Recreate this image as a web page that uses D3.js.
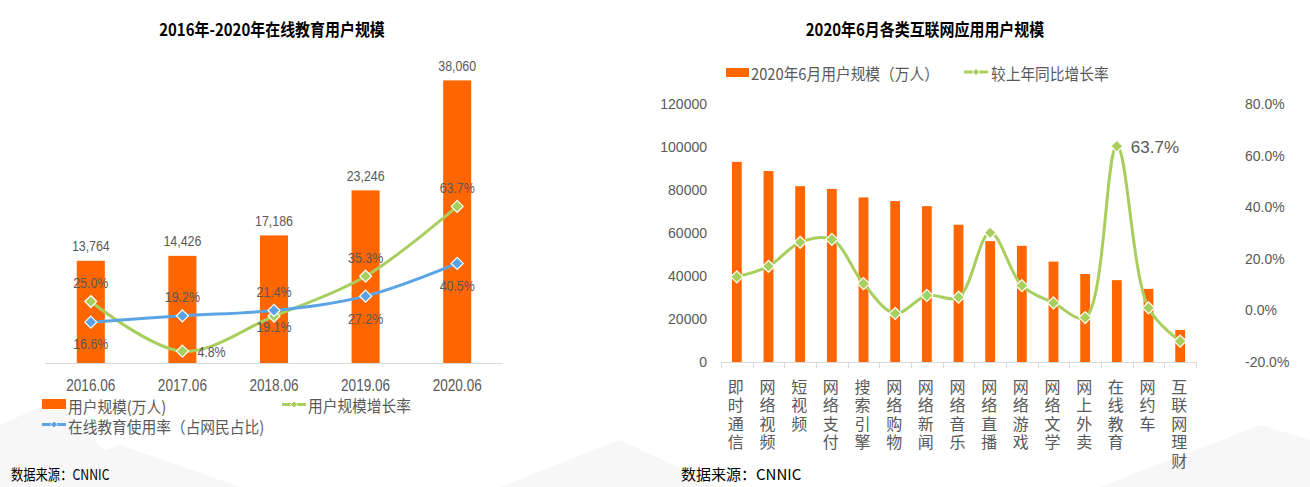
<!DOCTYPE html>
<html>
<head>
<meta charset="utf-8">
<script src="https://cdn.jsdelivr.net/npm/d3@7"></script>
<style>
  html, body { margin: 0; padding: 0; background: #ffffff; }
  svg { display: block; }
  .num { font-family: "Liberation Sans", Arial, sans-serif; }
  .cjk { font-family: "Noto Sans CJK SC", "Noto Sans", sans-serif; }
</style>
</head>
<body>
<svg id="chart" width="1310" height="487"></svg>
<script>
// ---------------- DATA ----------------
// Left chart: 2016-2020 online education users
const years = ["2016.06", "2017.06", "2018.06", "2019.06", "2020.06"];
const eduUsers = [13764, 14426, 17186, 23246, 38060];          // 万人
const eduGrowth = [0.250, 0.048, 0.191, 0.353, 0.637];          // 用户规模增长率
const eduRate = [0.166, 0.192, 0.214, 0.272, 0.405];            // 在线教育使用率
const growthLabelPlace = ["top", "right", "bottom", "top", "top"];
const rateLabelPlace = ["bottom", "top", "top", "bottom", "bottom"];

// Right chart: June 2020 internet application users
const apps = ["即时通信", "网络视频", "短视频", "网络支付", "搜索引擎", "网络购物", "网络新闻",
              "网络音乐", "网络直播", "网络游戏", "网络文学", "网上外卖", "在线教育", "网约车", "互联网理财"];
const appUsers = [93079, 88821, 81786, 80500, 76554, 74857, 72507,
                  63855, 56230, 54035, 46704, 40903, 38060, 34011, 14938];
const appGrowth = [0.130, 0.171, 0.264, 0.275, 0.104, -0.012, 0.058,
                   0.051, 0.301, 0.096, 0.029, -0.028, 0.637, 0.010, -0.119];
const leftTicksR = [0, 20000, 40000, 60000, 80000, 100000, 120000];
const rightTicksR = [-0.2, 0, 0.2, 0.4, 0.6, 0.8];

// ---------------- STYLE ----------------
const ORANGE = "#FF6600";
const GREEN = "#A8CF5E";
const BLUE = "#5AA4E6";
const GREY = "#595959";
const AXIS = "#D9D9D9";

const svg = d3.select("#chart");

// faint background shapes
const bg = svg.append("g");
[
  [[0, 487], [0, 425], [55, 400], [140, 487]],
  [[0, 487], [120, 445], [240, 487]],
  [[500, 487], [620, 440], [720, 487]],
  [[1100, 487], [1260, 425], [1310, 440], [1310, 487]]
].forEach(p => bg.append("polygon").attr("points", p.map(q => q.join(",")).join(" "))
  .attr("fill", "#F7F7F7"));

const diamond = r => `M0,${-r}L${r},0L0,${r}L${-r},0Z`;

function squeeze(sel, k) {
  sel.each(function () {
    const a = window.getComputedStyle(this).textAnchor;
    const o = a === "middle" ? "50% 50%" : (a === "end" ? "100% 50%" : "0% 50%");
    d3.select(this).style("transform-box", "fill-box").style("transform-origin", o)
      .style("transform", `scaleX(${k})`);
  });
}

// ================= LEFT CHART =================
const L = svg.append("g");
const xL = d3.scaleBand().domain(years).range([45, 503]).paddingInner(0.694).paddingOuter(0.347);
const yL1 = d3.scaleLinear().domain([0, 40000]).range([363, 66]);
const yL2 = d3.scaleLinear().domain([0, 1.2]).range([363, 68]);
const cxL = d => xL(d) + xL.bandwidth() / 2;

squeeze(L.append("text").attr("class", "cjk").attr("x", 272).attr("y", 29)
  .attr("text-anchor", "middle").attr("dominant-baseline", "central")
  .attr("font-size", 17).attr("font-weight", 700).attr("fill", "#000")
  .text("2016年-2020年在线教育用户规模"), 0.88);

// bars
L.selectAll("rect.bar").data(years).join("rect").attr("class", "bar")
  .attr("x", d => xL(d)).attr("width", xL.bandwidth())
  .attr("y", (d, i) => yL1(eduUsers[i])).attr("height", (d, i) => yL1(0) - yL1(eduUsers[i]))
  .attr("fill", ORANGE);

// x axis
L.append("line").attr("x1", 45).attr("x2", 503).attr("y1", 363.5).attr("y2", 363.5)
  .attr("stroke", AXIS).attr("stroke-width", 1);
const axL = L.append("g").attr("transform", "translate(0,363)")
  .call(d3.axisBottom(xL).tickSize(0).tickPadding(16));
axL.select(".domain").remove();
axL.selectAll("text").attr("class", "num").attr("font-size", 17).attr("fill", GREY);

const fmtInt = d3.format(",");
const pct = v => (v * 100).toFixed(1) + "%";

// bar labels
L.selectAll("text.barlab").data(years).join("text").attr("class", "barlab num")
  .attr("x", d => cxL(d)).attr("y", (d, i) => yL1(eduUsers[i]) - 15)
  .attr("text-anchor", "middle").attr("dominant-baseline", "central")
  .attr("font-size", 15.5).attr("fill", GREY).text((d, i) => fmtInt(eduUsers[i]));

// lines
const curve = d3.curveCatmullRom.alpha(0.5);
const lineG = d3.line().x((d, i) => cxL(years[i])).y(d => yL2(d)).curve(curve);
L.append("path").datum(eduGrowth).attr("d", lineG).attr("fill", "none")
  .attr("stroke", GREEN).attr("stroke-width", 3);
L.selectAll("path.gm").data(eduGrowth).join("path").attr("class", "gm")
  .attr("transform", (d, i) => `translate(${cxL(years[i])},${yL2(d)})`)
  .attr("d", diamond(6)).attr("fill", GREEN).attr("stroke", "#fff").attr("stroke-width", 1.2);
L.append("path").datum(eduRate).attr("d", lineG).attr("fill", "none")
  .attr("stroke", BLUE).attr("stroke-width", 3);
L.selectAll("path.bm").data(eduRate).join("path").attr("class", "bm")
  .attr("transform", (d, i) => `translate(${cxL(years[i])},${yL2(d)})`)
  .attr("d", diamond(6)).attr("fill", BLUE).attr("stroke", "#fff").attr("stroke-width", 1.2);

function placeLabel(sel, vals, places, below) {
  sel.attr("x", (d, i) => places[i] === "right" ? cxL(years[i]) + 15 : cxL(years[i]))
    .attr("y", (d, i) => {
      const y = yL2(vals[i]);
      if (places[i] === "top") return y - 19;
      if (places[i] === "right") return y;
      return y + below[i];
    })
    .attr("text-anchor", (d, i) => places[i] === "right" ? "start" : "middle");
}
const gl = L.selectAll("text.gl").data(eduGrowth).join("text").attr("class", "gl num")
  .attr("dominant-baseline", "central").attr("font-size", 15.5).attr("fill", GREY)
  .text(d => pct(d));
placeLabel(gl, eduGrowth, growthLabelPlace, [21, 21, 10, 21, 21]);
const bl = L.selectAll("text.bl").data(eduRate).join("text").attr("class", "bl num")
  .attr("dominant-baseline", "central").attr("font-size", 15.5).attr("fill", GREY)
  .text(d => pct(d));
placeLabel(bl, eduRate, rateLabelPlace, [21, 21, 21, 22, 22]);

// legend
const lg = L.append("g");
lg.append("rect").attr("x", 42).attr("y", 399).attr("width", 24).attr("height", 10).attr("fill", ORANGE);
lg.append("text").attr("class", "cjk lgt").attr("x", 68).attr("y", 406).text("用户规模(万人)");
function legLine(g, x, y, color) {
  g.append("line").attr("x1", x).attr("x2", x + 24).attr("y1", y).attr("y2", y)
    .attr("stroke", color).attr("stroke-width", 3);
  g.append("path").attr("transform", `translate(${x + 12},${y})`).attr("d", diamond(3.5)).attr("fill", color)
    .attr("stroke", "#fff").attr("stroke-width", 0.8);
}
legLine(lg, 282, 404.5, GREEN);
lg.append("text").attr("class", "cjk lgt").attr("x", 308).attr("y", 405).text("用户规模增长率");
legLine(lg, 42, 424.5, BLUE);
lg.append("text").attr("class", "cjk lgt").attr("x", 68).attr("y", 426).text("在线教育使用率（占网民占比)");
lg.selectAll("text.lgt").attr("dominant-baseline", "central").attr("font-size", 16).attr("fill", GREY);

L.append("text").attr("class", "cjk src").attr("x", 11).attr("y", 473)
  .attr("dominant-baseline", "central").attr("font-size", 15).attr("fill", "#000")
  .text("数据来源：CNNIC");

squeeze(L.selectAll("text.num"), 0.8);
squeeze(lg.selectAll("text.lgt"), 0.92);
squeeze(L.selectAll("text.src"), 0.82);

// ================= RIGHT CHART =================
const R = svg.append("g");
const xR = d3.scaleBand().domain(apps).range([721, 1196]).paddingInner(0.69).paddingOuter(0.345);
const yR1 = d3.scaleLinear().domain([0, 120000]).range([362, 104]);
const yR2 = d3.scaleLinear().domain([-0.2, 0.8]).range([362, 104]);
const cxR = d => xR(d) + xR.bandwidth() / 2;

squeeze(R.append("text").attr("class", "cjk").attr("x", 925).attr("y", 29)
  .attr("text-anchor", "middle").attr("dominant-baseline", "central")
  .attr("font-size", 17).attr("font-weight", 700).attr("fill", "#000")
  .text("2020年6月各类互联网应用用户规模"), 0.88);

// legend
const rg = R.append("g");
rg.append("rect").attr("x", 726).attr("y", 68).attr("width", 23).attr("height", 9).attr("fill", ORANGE);
rg.append("text").attr("class", "cjk rlg").attr("x", 751).attr("y", 73).text("2020年6月用户规模（万人）");
legLine(rg, 964, 72, GREEN);
rg.append("text").attr("class", "cjk rlg").attr("x", 991).attr("y", 73).text("较上年同比增长率");
rg.selectAll("text.rlg").attr("dominant-baseline", "central").attr("font-size", 16).attr("fill", GREY);
squeeze(rg.selectAll("text.rlg"), 0.92);

// bars
R.selectAll("rect.bar").data(apps).join("rect").attr("class", "bar")
  .attr("x", d => xR(d)).attr("width", xR.bandwidth())
  .attr("y", (d, i) => yR1(appUsers[i])).attr("height", (d, i) => yR1(0) - yR1(appUsers[i]))
  .attr("fill", ORANGE);

// x axis line with boundary ticks
R.append("line").attr("x1", 721).attr("x2", 1196).attr("y1", 362.5).attr("y2", 362.5)
  .attr("stroke", AXIS);
const bounds = apps.map(d => xR(d) - xR.step() * xR.paddingInner() / 2).concat([1196]);
R.selectAll("line.tk").data(bounds).join("line").attr("class", "tk")
  .attr("x1", d => Math.round(d) + 0.5).attr("x2", d => Math.round(d) + 0.5)
  .attr("y1", 362).attr("y2", 368).attr("stroke", AXIS);

// category labels (vertical writing, one text per category)
R.selectAll("text.cat").data(apps).join("text").attr("class", "cat cjk")
  .attr("x", d => cxR(d) - 1).attr("y", 378.5)
  .style("writing-mode", "vertical-rl").style("text-orientation", "upright")
  .style("letter-spacing", "2.6px")
  .attr("font-size", 16).attr("fill", GREY)
  .text(d => d);

// y axes
const ayl = R.append("g").attr("transform", "translate(721,0)")
  .call(d3.axisLeft(yR1).tickValues(leftTicksR).tickSize(0).tickPadding(14).tickFormat(d => String(d)));
ayl.select(".domain").remove();
ayl.selectAll("text").attr("class", "num").attr("font-size", 14).attr("fill", GREY);
const ayr = R.append("g").attr("transform", "translate(1196,0)")
  .call(d3.axisRight(yR2).tickValues(rightTicksR).tickSize(0).tickPadding(49).tickFormat(pct));
ayr.select(".domain").remove();
ayr.selectAll("text").attr("class", "num").attr("font-size", 14).attr("fill", GREY);

// growth line
const lineR = d3.line().x((d, i) => cxR(apps[i])).y(d => yR2(d)).curve(curve);
R.append("path").datum(appGrowth).attr("d", lineR).attr("fill", "none")
  .attr("stroke", GREEN).attr("stroke-width", 3);
R.selectAll("path.gm").data(appGrowth).join("path").attr("class", "gm")
  .attr("transform", (d, i) => `translate(${cxR(apps[i])},${yR2(d)})`)
  .attr("d", diamond(6)).attr("fill", GREEN).attr("stroke", "#fff").attr("stroke-width", 1.2);

// peak label
const iMax = d3.maxIndex(appGrowth);
R.append("text").attr("class", "num").attr("x", cxR(apps[iMax]) + 14).attr("y", yR2(appGrowth[iMax]) + 1)
  .attr("dominant-baseline", "central").attr("font-size", 17).attr("fill", GREY)
  .text(pct(appGrowth[iMax]));

R.append("text").attr("class", "cjk").attr("x", 681).attr("y", 473)
  .attr("dominant-baseline", "central").attr("font-size", 15).attr("fill", "#000")
  .text("数据来源：CNNIC");
</script>
</body>
</html>
